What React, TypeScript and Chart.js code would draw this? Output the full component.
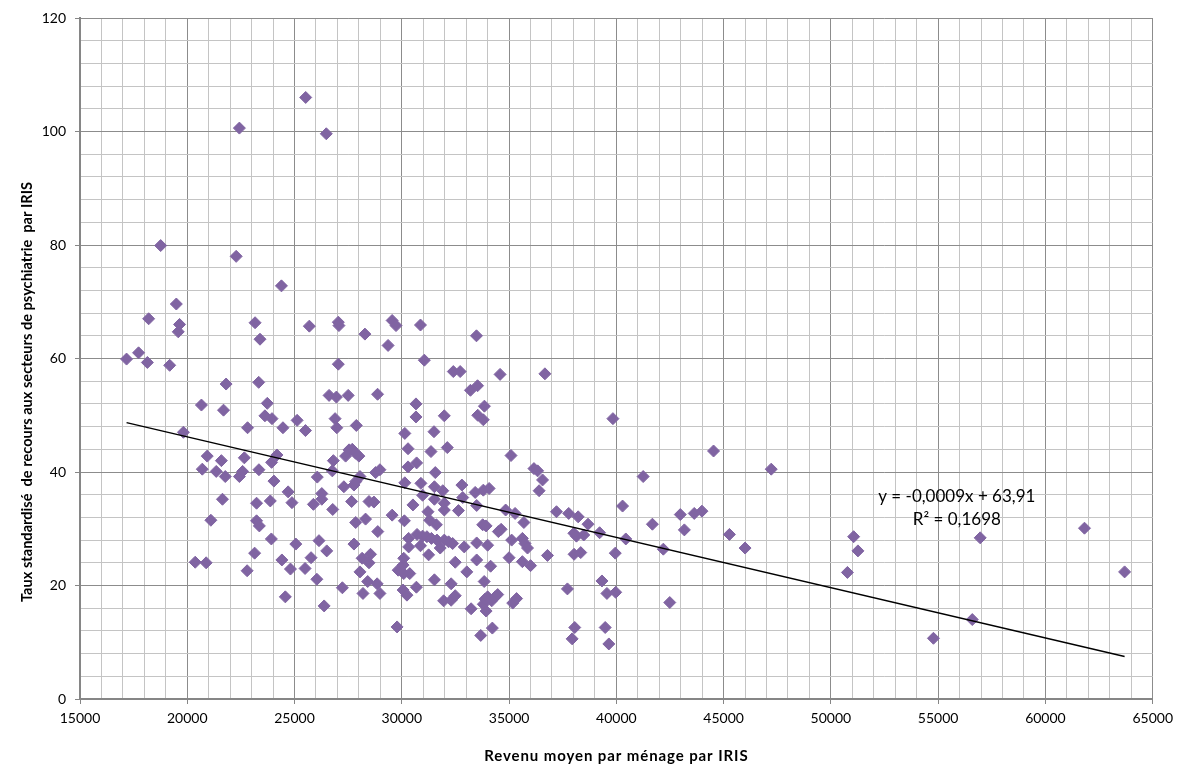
import { useEffect, useRef } from 'react';
import { Chart, registerables } from 'chart.js';

Chart.register(...registerables);

// Revenu moyen par ménage par IRIS (x) and taux standardisé (y), paired by index
const revenus = [
  17170, 17730, 18140, 18200, 18760, 19180, 19490, 19580, 19640, 19820,
  20370, 20660, 20700, 20880, 20930, 21100, 21350, 21590, 21640, 21690,
  21770, 21810, 22280, 22430, 22430, 22580, 22660, 22790, 22810, 23140,
  23160, 23230, 23230, 23330, 23340, 23360, 23390, 23620, 23730, 23870,
  23920, 23930, 23950, 24040, 24180, 24390, 24410, 24460, 24570, 24700,
  24810, 24880, 25060, 25120, 25490, 25510, 25520, 25690, 25770, 25880,
  26040, 26060, 26140, 26270, 26270, 26380, 26480, 26500, 26610, 26760,
  26780, 26810, 26890, 26950, 26970, 27040, 27040, 27070, 27230, 27300,
  27380, 27500, 27540, 27660, 27690, 27770, 27770, 27850, 27850, 27850,
  27880, 28000, 28050, 28050, 28150, 28190, 28280, 28310, 28410, 28470,
  28470, 28540, 28700, 28780, 28850, 28870, 28880, 28980, 28980, 29360,
  29550, 29730, 29780, 29550, 29830, 30060, 30090, 30370, 30090, 30060,
  30240, 30120, 30140, 30140, 30290, 30290, 30320, 30320, 30520, 30660,
  30660, 30680, 30690, 30710, 30870, 30870, 30890, 30970, 30970, 31050,
  31170, 31220, 31250, 31300, 31360, 31380, 31500, 31520, 31520, 31520,
  31560, 31610, 31640, 31790, 31910, 31950, 31980, 31980, 31980, 31980,
  32120, 32180, 32300, 32300, 32370, 32400, 32490, 32490, 32640, 32720,
  32800, 32840, 32910, 33030, 33200, 33230, 33420, 33480, 33490, 33490,
  33490, 33530, 33540, 33680, 33770, 33800, 33800, 33800, 33840, 33850,
  33880, 33930, 33930, 34000, 34000, 34070, 34140, 34190, 34220, 34350,
  34470, 34500, 34580, 34630, 34840, 35000, 35090, 35120, 35170, 35280,
  35350, 35620, 35620, 35690, 35740, 35860, 36000, 36160, 36330, 36400,
  36560, 36670, 36790, 37210, 37720, 37780, 37940, 38020, 38030, 38060,
  38140, 38220, 38340, 38480, 38680, 39220, 39330, 39480, 39560, 39650,
  39840, 39950, 39970, 40290, 40440, 41250, 41680, 42190, 42490, 42980,
  43170, 43630, 43990, 44530, 45270, 46000, 47220, 50770, 51060, 51260,
  54780, 56590, 56960, 61820, 63690,
];

const taux = [
  59.9, 61.0, 59.3, 67.0, 79.9, 58.8, 69.6, 64.7, 66.0, 47.0,
  24.1, 51.8, 40.5, 24.0, 42.8, 31.5, 40.1, 42.0, 35.2, 50.9,
  39.2, 55.5, 78.0, 100.6, 39.2, 40.1, 42.5, 22.6, 47.8, 25.7,
  66.3, 34.5, 31.4, 55.8, 40.4, 30.5, 63.4, 49.9, 52.1, 34.9,
  28.2, 41.7, 49.4, 38.4, 43.0, 72.8, 24.5, 47.8, 18.0, 36.5,
  22.9, 34.6, 27.3, 49.1, 23.0, 47.3, 106.0, 65.7, 24.9, 34.3,
  21.1, 39.1, 27.9, 36.2, 35.2, 16.4, 99.6, 26.1, 53.5, 40.2,
  33.4, 42.0, 49.4, 53.2, 47.8, 66.4, 59.0, 65.8, 19.6, 37.4,
  42.8, 53.5, 43.9, 34.8, 44.0, 27.3, 37.7, 43.3, 38.3, 31.1,
  48.2, 42.8, 39.2, 22.4, 24.8, 18.6, 64.3, 31.7, 20.7, 24.0,
  34.8, 25.5, 34.7, 39.9, 20.3, 53.7, 29.5, 40.4, 18.6, 62.3,
  66.7, 65.8, 12.7, 32.4, 22.7, 23.6, 22.1, 22.1, 24.8, 19.2,
  18.3, 31.4, 46.8, 38.1, 44.1, 40.9, 28.3, 26.8, 34.2, 52.0,
  49.7, 19.7, 41.6, 29.0, 65.9, 27.0, 38.0, 35.9, 28.7, 59.7,
  28.6, 33.0, 25.4, 31.5, 43.6, 28.3, 47.1, 37.4, 35.2, 21.0,
  39.9, 30.7, 28.0, 26.6, 36.7, 17.3, 49.9, 34.5, 33.3, 28.0,
  44.3, 27.7, 20.3, 17.4, 27.4, 57.7, 24.1, 18.2, 33.2, 57.7,
  37.7, 35.5, 26.8, 22.4, 54.4, 15.9, 36.4, 64.0, 34.1, 27.5,
  24.5, 55.2, 50.0, 11.2, 30.7, 49.2, 36.8, 16.7, 20.7, 51.6,
  17.6, 30.5, 15.5, 27.1, 18.0, 37.1, 23.4, 17.3, 12.5, 18.0,
  18.4, 29.5, 57.2, 29.9, 33.3, 24.9, 42.9, 28.0, 16.9, 32.7,
  17.7, 28.3, 24.2, 31.1, 27.4, 26.6, 23.5, 40.6, 40.2, 36.7,
  38.6, 57.3, 25.3, 33.0, 19.4, 32.7, 10.6, 29.2, 25.5, 12.6,
  28.7, 32.1, 25.8, 28.9, 30.8, 29.3, 20.8, 12.6, 18.6, 9.7,
  49.4, 25.7, 18.8, 34.0, 28.2, 39.2, 30.8, 26.4, 17.0, 32.5,
  29.8, 32.7, 33.1, 43.7, 29.0, 26.6, 40.5, 22.3, 28.6, 26.1,
  10.7, 14.0, 28.4, 30.1, 22.4,
];

// Axis ranges and ticks
const xMin = 15000;
const xMax = 65000;
const xMinorStep = 1000;
const xMajorStep = 5000;
const yMin = 0;
const yMax = 120;
const yMinorStep = 4;
const yMajorStep = 20;

// Linear trend (Excel "courbe de tendance")
const trendSlope = -0.000886;
const trendIntercept = 63.91;
const equationLabel = 'y = -0,0009x + 63,91';
const r2Label = 'R² = 0,1698';
const labelAnchorX = 55870;
const equationAnchorY = 35.6;
const r2AnchorY = 31.7;

const xTitle = 'Revenu moyen par ménage par IRIS';
const yTitle = 'Taux standardisé  de recours aux secteurs de psychiatrie  par IRIS';

const FONT = "Lato, 'Open Sans', sans-serif";

export default function App() {
  const canvasRef = useRef<HTMLCanvasElement | null>(null);

  useEffect(() => {
    document.body.style.margin = '0';
    const canvas = canvasRef.current;
    if (!canvas) return;

    const points = revenus.map((x, i) => ({ x, y: taux[i] }));
    const tMinX = Math.min(...revenus);
    const tMaxX = Math.max(...revenus);
    const trend = [
      { x: tMinX, y: trendSlope * tMinX + trendIntercept },
      { x: tMaxX, y: trendSlope * tMaxX + trendIntercept },
    ];

    const textPlugin = {
      id: 'chartTexts',
      afterDraw(chart: any) {
        const { ctx, scales, chartArea } = chart;
        ctx.save();
        ctx.fillStyle = '#000';
        ctx.textAlign = 'center';
        ctx.textBaseline = 'middle';

        // trend equation
        const px = scales.x.getPixelForValue(labelAnchorX);
        ctx.font = `17px ${FONT}`;
        ctx.fillText(equationLabel, px, scales.y.getPixelForValue(equationAnchorY));
        ctx.fillText(r2Label, px, scales.y.getPixelForValue(r2AnchorY));

        // x axis title
        ctx.font = `bold 15px ${FONT}`;
        (ctx as any).letterSpacing = '0.9px';
        ctx.fillText(xTitle, (chartArea.left + chartArea.right) / 2, 756);

        // y axis title
        (ctx as any).letterSpacing = '0px';
        ctx.translate(27, 392);
        ctx.rotate(-Math.PI / 2);
        ctx.font = `bold 14.6px ${FONT}`;
        ctx.fillText(yTitle, 0, 0);
        ctx.restore();
      },
    };

    const isMajorX = (v: number) => Math.abs(v % xMajorStep) < 1e-6;
    const isMajorY = (v: number) => Math.abs(v % yMajorStep) < 1e-6;

    const chart = new Chart(canvas, {
      type: 'scatter',
      data: {
        datasets: [
          {
            type: 'line',
            data: trend,
            borderColor: '#000000',
            borderWidth: 1.5,
            pointRadius: 0,
            fill: false,
            order: 0,
          } as any,
          {
            data: points,
            pointStyle: 'rectRot',
            pointRadius: 6,
            pointBackgroundColor: '#8064A2',
            pointBorderColor: '#8064A2',
            pointBorderWidth: 1,
            order: 1,
          },
        ],
      },
      options: {
        animation: false,
        responsive: false,
        maintainAspectRatio: false,
        layout: { padding: { top: 18, right: 22, left: 0, bottom: 0 } },
        plugins: {
          legend: { display: false },
          tooltip: { enabled: false },
        },
        scales: {
          x: {
            type: 'linear',
            min: xMin,
            max: xMax,
            border: { color: '#868686', width: 2 },
            grid: {
              color: (c: any) => (isMajorX(c.tick?.value ?? 0) ? '#8c8c8c' : '#c4c4c4'),
              lineWidth: 1,
              tickLength: 5,
              tickColor: (c: any) => (isMajorX(c.tick?.value ?? 0) ? '#868686' : 'rgba(0,0,0,0)'),
            },
            ticks: {
              stepSize: xMinorStep,
              autoSkip: false,
              maxRotation: 0,
              padding: 6,
              color: '#000',
              font: { family: FONT, size: 14 },
              callback: (v: any) => (isMajorX(Number(v)) ? String(v) : ''),
            },
            afterFit: (s: any) => {
              s.height = 66;
            },
          },
          y: {
            type: 'linear',
            min: yMin,
            max: yMax,
            border: { color: '#868686', width: 2 },
            grid: {
              color: (c: any) => (isMajorY(c.tick?.value ?? 0) ? '#8c8c8c' : '#c4c4c4'),
              lineWidth: 1,
              tickLength: 5,
              tickColor: (c: any) => (isMajorY(c.tick?.value ?? 0) ? '#868686' : 'rgba(0,0,0,0)'),
            },
            ticks: {
              stepSize: yMinorStep,
              autoSkip: false,
              padding: 9,
              color: '#000',
              font: { family: FONT, size: 14 },
              callback: (v: any) => (isMajorY(Number(v)) ? String(v) : ''),
            },
            afterFit: (s: any) => {
              s.width = 80;
            },
          },
        },
      },
      plugins: [textPlugin],
    });

    return () => {
      chart.destroy();
    };
  }, []);

  return (
    <div style={{ width: 1179, height: 765, background: '#fff' }}>
      <canvas ref={canvasRef} width={1179} height={765} style={{ display: 'block' }} />
    </div>
  );
}
